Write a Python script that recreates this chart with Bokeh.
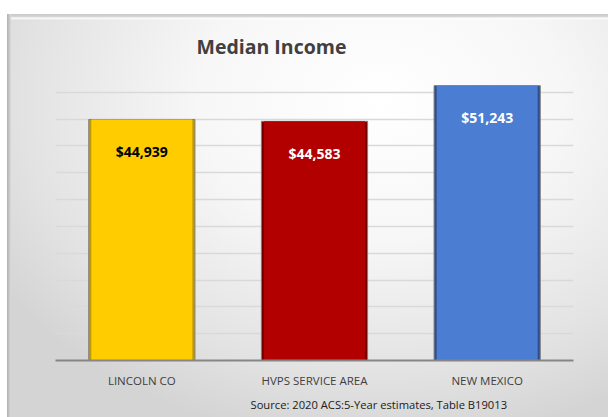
from bokeh.plotting import figure
from bokeh.models import Range1d, FixedTicker, Title, ColumnDataSource, Spacer
from bokeh.layouts import column
from bokeh.embed import file_html
from bokeh.resources import INLINE
from bokeh.core.properties import value

categories = ["LINCOLN CO", "HVPS SERVICE AREA", "NEW MEXICO"]
incomes = [44939, 44583, 51243]
value_labels = ["$44,939", "$44,583", "$51,243"]
bar_colors = ["#FFCC00", "#B20000", "#4B7DD2"]
edge_colors = ["#C29A00", "#700000", "#2E4E8C"]
label_colors = ["#000000", "#FFFFFF", "#FFFFFF"]
grid_ticks = [0, 5000, 10000, 15000, 20000, 25000, 30000, 35000, 40000, 45000, 50000, 55000]

src = ColumnDataSource(dict(cat=categories, v=incomes, lab=value_labels,
                            fc=bar_colors, ec=edge_colors, tc=label_colors))

p = figure(width=601, height=403, x_range=categories, y_range=Range1d(0, 55000),
           output_backend="svg", toolbar_location=None,
           min_border_left=48, min_border_right=35, min_border_top=51, min_border_bottom=57)

p.background_fill_alpha = 0
p.border_fill_alpha = 0
p.outline_line_color = None
p.styles = {
    "background": "linear-gradient(to right, #b0b0b0 0px, #c4c4c4 2px, #dcdcdc 4px, transparent 4px),"
                  "linear-gradient(to bottom, #c8c8c8 0px, #d8d8d8 3px, #ffffff 4px, transparent 6px),"
                  "radial-gradient(ellipse 75% 85% at 62% 22%, #ffffff 0%, #f7f7f7 40%, #e2e2e2 80%, #d4d4d4 100%)"
}

p.vbar(x="cat", top="v", width=0.615, source=src, fill_color="ec",
       line_color="#7f7f7f", line_width=1)
p.vbar(x="cat", top="v", width=0.585, source=src, fill_color="fc", line_color=None)

p.text(x="cat", y="v", text="lab", source=src, text_color="tc",
       text_font=value("Open Sans"), text_font_style="bold", text_font_size="14px",
       text_align="center", text_baseline="middle", y_offset=32)

p.yaxis.visible = False
p.xgrid.grid_line_color = None
p.ygrid.ticker = FixedTicker(ticks=grid_ticks)
p.ygrid.grid_line_color = "#d9d9d9"
p.ygrid.grid_line_width = 1.5

xa = p.xaxis[0]
xa.axis_line_color = "#868686"
xa.axis_line_width = 2
xa.major_tick_line_color = None
xa.minor_tick_line_color = None
xa.major_label_text_font = "Open Sans"
xa.major_label_text_font_size = "11.5px"
xa.major_label_text_color = "#404040"
xa.major_label_standoff = 6

title = Title(text="Median Income", align="left", offset=141, standoff=12,
              text_font="Open Sans", text_font_style="bold", text_font_size="19.5px",
              text_color="#404040")
p.add_layout(title, "above")

source_note = Title(text="Source: 2020 ACS:5-Year estimates, Table B19013",
                    align="left", offset=195, standoff=8,
                    text_font="Open Sans", text_font_style="normal", text_font_size="11.2px",
                    text_color="#202020")
p.add_layout(source_note, "below")

layout = column(Spacer(height=14, width=601), p, spacing=0)
layout.styles = {"margin-left": "7px"}
open("out.html", "w").write(file_html(layout, INLINE))
